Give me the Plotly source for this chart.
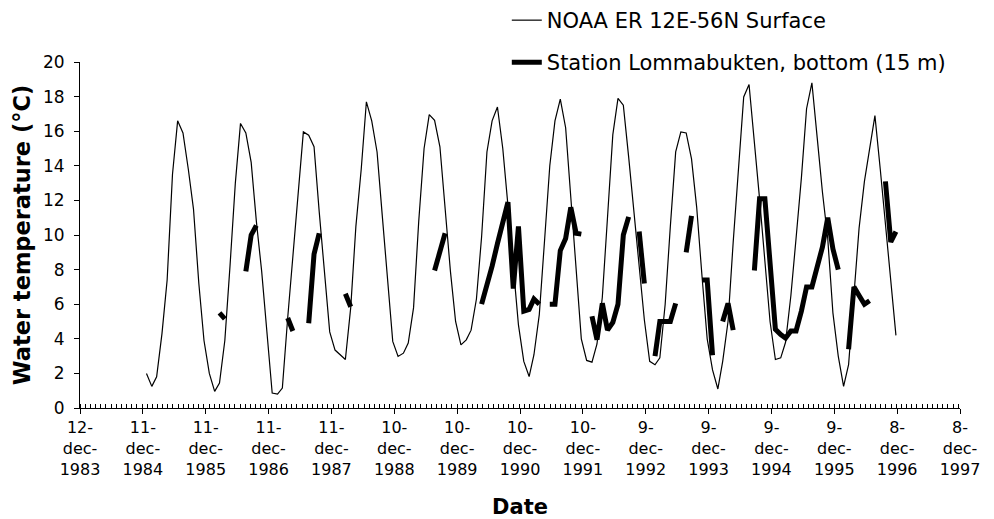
import pandas as pd
import plotly.graph_objects as go

# Monthly dates (first of each month), Jan 1985 - Dec 1996
months = pd.date_range("1985-01-01", "1996-12-01", freq="MS")

# NOAA ER 12E-56N surface temperature, Jan..Dec for each year
noaa = [
    2.0, 1.25, 1.8, 4.3, 7.4, 13.5, 16.6, 15.9, 13.8, 11.5, 7.2, 3.9,      # 1985
    2.0, 0.96, 1.44, 3.9, 8.2, 13.0, 16.45, 15.9, 14.2, 10.8, 7.9, 4.5,    # 1986
    0.86, 0.8, 1.15, 5.2, 8.9, 12.4, 15.96, 15.77, 15.1, 11.35, 7.9, 4.4,  # 1987
    3.35, 3.08, 2.8, 5.8, 10.5, 13.8, 17.7, 16.6, 14.8, 11.15, 7.3, 3.85,  # 1988
    2.98, 3.17, 3.75, 5.8, 10.8, 15.0, 16.96, 16.63, 15.1, 11.35, 7.9, 5.0,  # 1989
    3.65, 3.94, 4.5, 6.3, 9.9, 14.8, 16.6, 17.4, 15.0, 11.7, 8.1, 4.8,     # 1990
    2.69, 1.82, 3.08, 5.4, 9.6, 14.0, 16.6, 17.85, 16.2, 12.0, 8.1, 4.0,   # 1991
    2.75, 2.65, 3.7, 6.4, 11.0, 15.8, 17.9, 17.5, 14.5, 11.5, 8.5, 5.1,    # 1992
    2.7, 2.5, 2.9, 6.0, 10.5, 14.8, 15.96, 15.9, 14.4, 11.6, 7.6, 4.0,     # 1993
    2.2, 1.1, 2.7, 5.0, 9.6, 14.0, 17.98, 18.7, 15.5, 12.1, 8.5, 5.0,      # 1994
    2.8, 2.9, 3.8, 6.5, 9.8, 13.3, 17.3, 18.8, 15.6, 12.5, 9.8, 5.5,       # 1995
    3.0, 1.25, 2.5, 6.5, 10.4, 13.1, 15.0, 16.9, 13.8, 10.7, 7.5, 4.2,     # 1996
]

N = None
# Station Lommabukten, bottom (15 m); None = no measurement (gap)
station = [
    N, N, N, N, N, N, N, N, N, N, N, N,                                    # 1985
    N, N, 5.5, 5.15, N, N, N, 7.9, 10.0, 10.55, N, N,                      # 1986
    N, N, N, 5.2, 4.45, N, N, 4.9, 8.9, 10.1, N, N,                        # 1987
    N, N, 6.6, 5.85, N, N, N, N, N, N, N, N,                               # 1988
    N, N, N, N, N, N, N, 7.95, 9.1, 10.1, N, N,                            # 1989
    N, N, N, N, 6.0, 7.0, 8.2, 9.5, 10.8, 11.9, 6.9, 10.5,                 # 1990
    5.6, 5.7, 6.3, 6.0, N, 6.0, 6.0, 9.1, 9.8, 11.6, 10.1, 10.05,          # 1991
    N, 5.3, 3.95, 6.05, 4.5, 4.95, 6.0, 10.0, 11.05, N, 10.2, 7.2,         # 1992
    N, 3.0, 5.0, 5.0, 5.0, 6.05, N, 9.0, 11.1, N, 7.4, 7.4,                # 1993
    3.05, N, 5.0, 6.05, 4.5, N, N, N, 7.95, 12.1, 12.1, 8.3,               # 1994
    4.55, 4.25, 4.05, 4.45, 4.45, 5.6, 7.0, 7.0, 8.15, 9.3, 11.0, 9.2,     # 1995
    8.0, N, 3.4, 7.0, 6.5, 6.0, 6.2, N, N, 13.1, 9.6, 10.2,                # 1996
]

# Axis ticks (Excel date axis, major unit 365 days)
tick_dates = ["1983-12-12", "1984-12-11", "1985-12-11", "1986-12-11", "1987-12-11",
              "1988-12-10", "1989-12-10", "1990-12-10", "1991-12-10", "1992-12-09",
              "1993-12-09", "1994-12-09", "1995-12-09", "1996-12-08", "1997-12-08"]
tick_labels = ["12-<br>dec-<br>1983", "11-<br>dec-<br>1984", "11-<br>dec-<br>1985",
               "11-<br>dec-<br>1986", "11-<br>dec-<br>1987", "10-<br>dec-<br>1988",
               "10-<br>dec-<br>1989", "10-<br>dec-<br>1990", "10-<br>dec-<br>1991",
               "9-<br>dec-<br>1992", "9-<br>dec-<br>1993", "9-<br>dec-<br>1994",
               "9-<br>dec-<br>1995", "8-<br>dec-<br>1996", "8-<br>dec-<br>1997"]
y_ticks = list(range(0, 21, 2))

DAY_MS = 86400000

fig = go.Figure()
fig.add_trace(go.Scatter(x=months, y=noaa, mode="lines", name="NOAA ER 12E-56N Surface",
                         line=dict(color="black", width=1.2), legend="legend"))
fig.add_trace(go.Scatter(x=months, y=station, mode="lines",
                         name="Station Lommabukten, bottom (15 m)",
                         line=dict(color="black", width=5), connectgaps=False,
                         legend="legend2"))

legend_common = dict(xref="paper", yref="container", xanchor="left", yanchor="top",
                     bgcolor="rgba(0,0,0,0)", font=dict(size=21, color="black"),
                     itemwidth=30, tracegroupgap=0)

fig.update_layout(
    width=994, height=519,
    margin=dict(l=80, r=34, t=62, b=111, autoexpand=False),
    paper_bgcolor="white", plot_bgcolor="white",
    font=dict(family="DejaVu Sans", color="black"),
    showlegend=True,
    legend=dict(x=0.485, y=1, **legend_common),
    legend2=dict(x=0.485, y=1 - 42 / 519, **legend_common),
    xaxis=dict(
        type="date",
        range=[tick_dates[0], tick_dates[-1]],
        tickmode="array", tickvals=tick_dates, ticktext=tick_labels,
        ticks="outside", ticklen=5, tickcolor="black", tickwidth=1,
        showline=True, linecolor="black", linewidth=1,
        showgrid=False, zeroline=False,
        tickfont=dict(size=16, color="black"),
        ticklabelstandoff=0,
        minor=dict(ticks="inside", ticklen=4, tickcolor="black", tickwidth=1,
                   tickmode="linear", tick0=tick_dates[0], dtick=30 * DAY_MS, showgrid=False),
        title=dict(text="<b>Date</b>", font=dict(size=21, color="black"), standoff=26),
    ),
    yaxis=dict(
        range=[0, 20], tickmode="array", tickvals=y_ticks,
        ticks="outside", ticklen=5, tickcolor="black", tickwidth=1,
        showline=True, linecolor="black", linewidth=1,
        showgrid=False, zeroline=False,
        tickfont=dict(size=17, color="black"),
        ticklabelstandoff=6,
        title=dict(text="<b>Water temperature (°C)</b>", font=dict(size=22.5, color="black"),
                   standoff=6),
    ),
)

fig.write_html("out.html")
